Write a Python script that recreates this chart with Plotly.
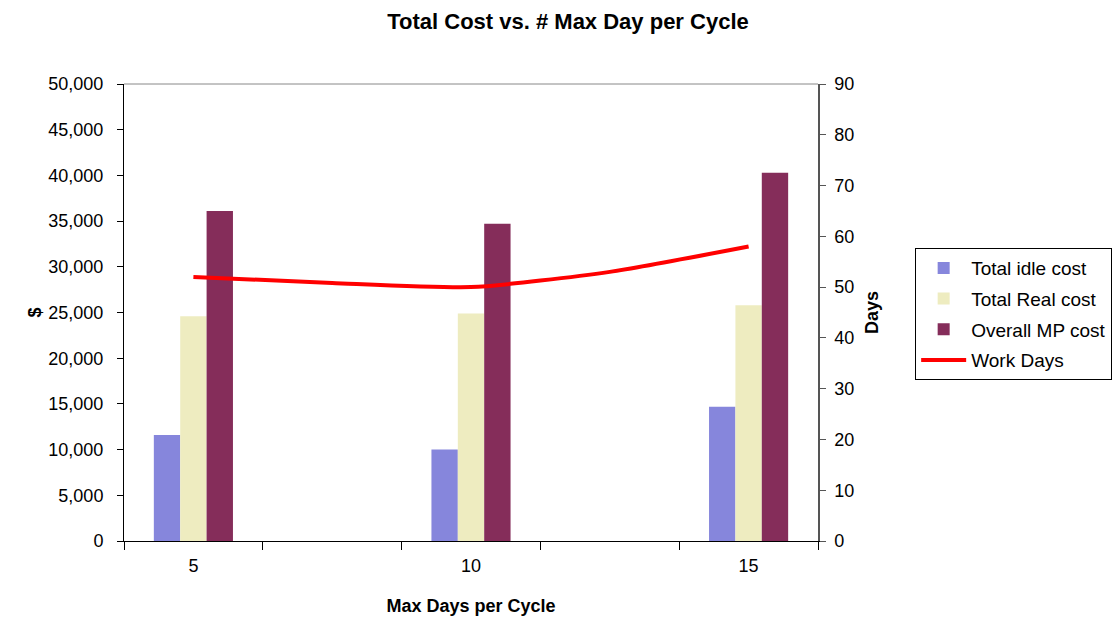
import plotly.graph_objects as go

# categories on the x axis (only 5, 10, 15 are labelled)
categories = ["5", " ", "10", "  ", "15"]
tick_text = ["5", "", "10", "", "15"]

idle_cost = [11600, None, 10000, None, 14700]
real_cost = [24600, None, 24900, None, 25800]
mp_cost = [36100, None, 34700, None, 40300]
work_days = [52.0, 50.8, 50.0, 53.0, 58.0]

font = "Liberation Sans, Arial, sans-serif"

fig = go.Figure()
fig.add_trace(go.Bar(x=categories, y=idle_cost, name="Total idle cost", legendgroup="a",
                     marker=dict(color="#8686dc", line=dict(width=0))))
fig.add_trace(go.Bar(x=categories, y=real_cost, name="Total Real cost", legendgroup="b",
                     marker=dict(color="#eeecc0", line=dict(width=0))))
fig.add_trace(go.Bar(x=categories, y=mp_cost, name="Overall MP cost", legendgroup="c",
                     marker=dict(color="#852d5a", line=dict(width=0))))
fig.add_trace(go.Scatter(x=categories, y=work_days, name="Work Days", yaxis="y2", legendgroup="d",
                         mode="lines", line=dict(color="#ff0000", width=4, shape="spline", smoothing=0.6)))

fig.update_layout(
    width=1120, height=620,
    margin=dict(l=116, r=310, t=76, b=87),
    paper_bgcolor="white", plot_bgcolor="white",
    font=dict(family=font, size=18, color="black"),
    title=dict(text="<b>Total Cost vs. # Max Day per Cycle</b>", x=0.5, xanchor="center",
               y=0.979, yanchor="middle", font=dict(size=22)),
    barmode="group", bargap=0.43, bargroupgap=0,
    xaxis=dict(
        type="category", categoryorder="array", categoryarray=categories,
        tickmode="array", tickvals=categories, ticktext=tick_text,
        tickson="boundaries", ticks="outside", ticklen=8, tickcolor="black",
        ticklabelstandoff=8,
        showline=True, linecolor="black", linewidth=1, showgrid=False,
        title=dict(text="<b>Max Days per Cycle</b>", standoff=24, font=dict(size=18)),
    ),
    yaxis=dict(
        range=[0, 50000], dtick=5000, tickformat=",", showgrid=False, zeroline=False,
        ticks="outside", ticklen=6, tickcolor="black", ticklabelstandoff=10,
        showline=True, linecolor="black", linewidth=1,
        title=dict(text="<b>$</b>", standoff=2, font=dict(size=18)),
    ),
    yaxis2=dict(
        overlaying="y", side="right", range=[0, 90], dtick=10, showgrid=False, zeroline=False,
        ticks="outside", ticklen=6, tickcolor="#555555", ticklabelstandoff=5,
        showline=True, linecolor="#555555", linewidth=1.5,
        title=dict(text="<b>Days</b>", standoff=12, font=dict(size=18)),
    ),
    legend=dict(
        x=1.14, y=0.641, xanchor="left", yanchor="top",
        bordercolor="black", borderwidth=1, bgcolor="white",
        font=dict(size=19), tracegroupgap=3, itemwidth=45,
    ),
    shapes=[dict(type="line", xref="paper", yref="paper", x0=0, x1=1, y0=1, y1=1,
                 line=dict(color="#888888", width=1))],
)

fig.write_html("out.html")
